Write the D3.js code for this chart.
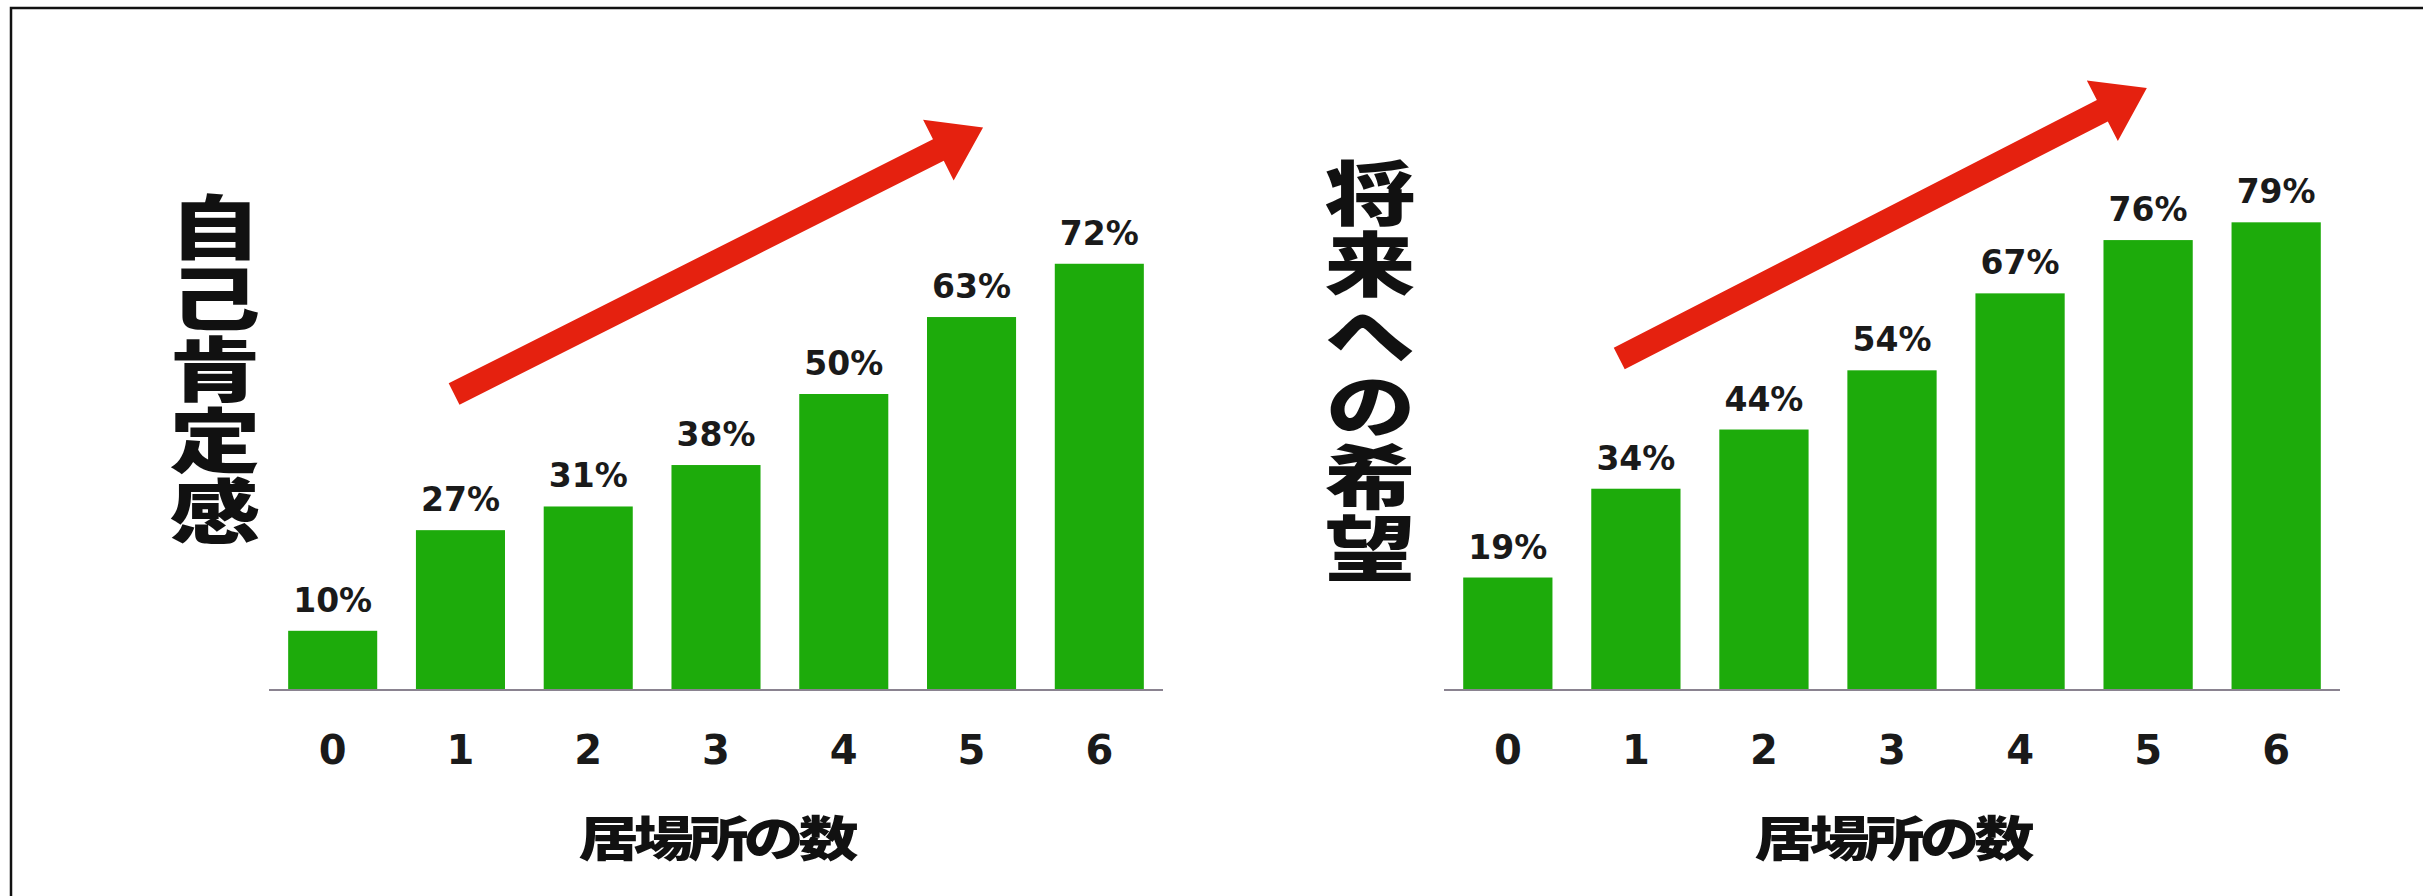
<!DOCTYPE html>
<html>
<head>
<meta charset="utf-8">
<script src="https://cdn.jsdelivr.net/npm/d3@7"></script>
<style>
  html, body { margin: 0; padding: 0; background: #fff; }
  svg { display: block; }
</style>
</head>
<body>
<svg id="chart" width="2423" height="896"></svg>
<script>
// Number of places where a child feels at home (居場所の数)
const categories = ["0", "1", "2", "3", "4", "5", "6"];
// Share (%) answering positively, by number of such places
const selfEsteem = [10, 27, 31, 38, 50, 63, 72];   // 自己肯定感
const hopeFuture = [19, 34, 44, 54, 67, 76, 79];   // 将来への希望
const panelTitles = ["自己肯定感", "将来への希望"];
const xTitle = "居場所の数";
// Trend arrows, given as [category index, percent] for tail and tip
const arrowTails = [[0.95, 50], [0.87, 56]];
const arrowTips = [[5.09, 95], [4.99, 101.7]];

const svg = d3.select("#chart");
const GREEN = "#1dab0b";
const RED = "#e5210f";

// frame lines along the top and left edges
svg.append("path")
  .attr("d", "M11,896 L11,8 L2423,8")
  .attr("fill", "none")
  .attr("stroke", "#111")
  .attr("stroke-width", 2.5);

const y = d3.scaleLinear().domain([0, 100]).range([690, 98]);

const panels = [
  { values: selfEsteem, title: panelTitles[0], range: [269, 1163], titleX: 215 },
  { values: hopeFuture, title: panelTitles[1], range: [1444, 2340], titleX: 1370 }
];

panels.forEach((p, i) => {
  const x = d3.scaleBand().domain(categories).range(p.range)
    .paddingInner(0.303).paddingOuter(0.15);
  const g = svg.append("g");
  const cx = idx => x(categories[0]) + x.bandwidth() / 2 + idx * x.step();

  // bars
  g.selectAll("rect.bar").data(p.values).join("rect")
    .attr("class", "bar")
    .attr("x", (d, j) => x(categories[j]))
    .attr("y", d => y(d))
    .attr("width", x.bandwidth())
    .attr("height", d => y(0) - y(d))
    .attr("fill", GREEN);

  // value labels
  g.selectAll("text.val").data(p.values).join("text")
    .attr("class", "val")
    .attr("x", (d, j) => x(categories[j]) + x.bandwidth() / 2)
    .attr("y", d => y(d) - 19)
    .attr("text-anchor", "middle")
    .attr("font-family", "DejaVu Sans")
    .attr("font-weight", "bold")
    .attr("font-size", 33)
    .attr("fill", "#1a1a1a")
    .text(d => d + "%");

  // category axis
  const axis = g.append("g")
    .attr("transform", `translate(0,${y(0)})`)
    .call(d3.axisBottom(x).tickSize(0).tickPadding(0));
  axis.select(".domain")
    .attr("d", `M${p.range[0]},0H${p.range[1]}`)
    .attr("stroke", "#8a8390")
    .attr("stroke-width", 2);
  axis.selectAll(".tick text")
    .attr("dy", null)
    .attr("y", 74)
    .attr("font-family", "DejaVu Sans")
    .attr("font-weight", "bold")
    .attr("font-size", 40)
    .attr("fill", "#1a1a1a");

  // x title
  const mid = (x(categories[0]) + x(categories[6]) + x.bandwidth()) / 2;
  g.append("text")
    .attr("transform", `translate(${mid},856) scale(1.25,1)`)
    .attr("text-anchor", "middle")
    .attr("font-family", "Noto Sans CJK JP")
    .attr("font-weight", 900)
    .attr("font-size", 48)
    .attr("letter-spacing", -4)
    .attr("fill", "#111")
    .text(xTitle);

  // vertical title
  g.append("text")
    .attr("transform", `translate(${p.titleX},${i === 0 ? 370 : 371}) scale(1.3,1)`)
    .attr("text-anchor", "middle")
    .attr("font-family", "Noto Sans CJK JP")
    .attr("font-weight", 900)
    .attr("font-size", 70)
    .attr("letter-spacing", 1)
    .style("writing-mode", "vertical-rl")
    .attr("fill", "#111")
    .text(p.title);

  // trend arrow
  const [t0, t1] = [arrowTails[i], arrowTips[i]];
  const ax = cx(t0[0]), ay = y(t0[1]), bx = cx(t1[0]), by = y(t1[1]);
  const len = Math.hypot(bx - ax, by - ay);
  const ux = (bx - ax) / len, uy = (by - ay) / len;
  const nx = -uy, ny = ux;
  const shaft = 24, head = 68, headLen = 50;
  const hx = bx - ux * headLen, hy = by - uy * headLen;
  const pts = [
    [ax + nx * shaft / 2, ay + ny * shaft / 2],
    [hx + nx * shaft / 2, hy + ny * shaft / 2],
    [hx + nx * head / 2, hy + ny * head / 2],
    [bx, by],
    [hx - nx * head / 2, hy - ny * head / 2],
    [hx - nx * shaft / 2, hy - ny * shaft / 2],
    [ax - nx * shaft / 2, ay - ny * shaft / 2]
  ];
  g.append("path")
    .attr("d", d3.line()(pts) + "Z")
    .attr("fill", RED);
});
</script>
</body>
</html>
